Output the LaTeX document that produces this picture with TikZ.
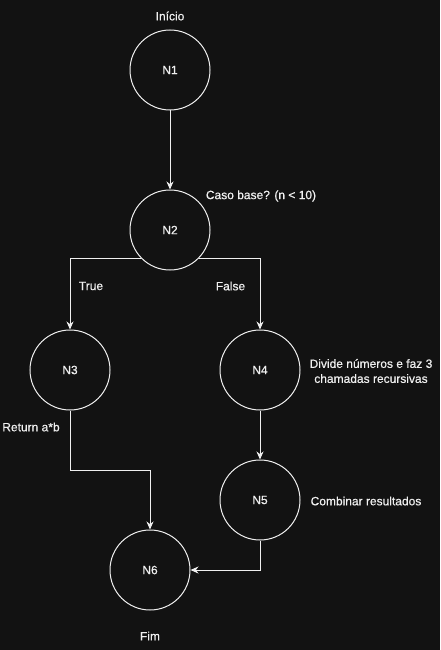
\documentclass[tikz,border=0pt]{standalone}
\usepackage{fontspec}
\setmainfont{Liberation Sans}[FakeBold=0.6]
\usetikzlibrary{arrows.meta}
\definecolor{bgc}{RGB}{18,18,18}
\definecolor{fgc}{RGB}{240,240,240}
\tikzset{
  stnode/.style={circle,draw=fgc,line width=1pt,minimum size=80pt,inner sep=0pt,text=fgc,font=\fontsize{12}{14}\selectfont},
  lbl/.style={text=fgc,inner sep=0pt,font=\fontsize{12}{15}\selectfont,align=center},
  conn/.style={draw=fgc,line width=1pt,-{Stealth[length=8pt,width=7pt]}}
}
\begin{document}
\begin{tikzpicture}[x=1pt,y=-1pt]
\fill[bgc] (0,0) rectangle (440,650);
\useasboundingbox (0,0) rectangle (440,650);
\node[stnode] (N1) at (170,70) {N1};
\node[stnode] (N2) at (170,230) {N2};
\node[stnode] (N3) at (70,370) {N3};
\node[stnode] (N4) at (260,370) {N4};
\node[stnode] (N5) at (260,500) {N5};
\node[stnode] (N6) at (150,570) {N6};
\node[lbl] (L1) at (170,16) {Início};
\node[lbl] (L2) at (261,196) {Caso base? (n < 10)};
\node[lbl] (L3) at (91,286) {True};
\node[lbl] (L4) at (230.5,286) {False};
\node[lbl] (L5) at (371,371) {Divide números e faz 3\\chamadas recursivas};
\node[lbl] (L6) at (31,427) {Return a*b};
\node[lbl] (L7) at (366,501) {Combinar resultados};
\node[lbl] (L8) at (150,636) {Fim};
\draw[conn] (N1.south) -- (N2.north);
\draw[conn] (N2.225) -| (N3.north);
\draw[conn] (N2.315) -| (N4.north);
\draw[conn] (N4.south) -- (N5.north);
\coordinate (B3) at (70,470);
\draw[conn] (N3.south) -- (B3) -| (N6.north);
\draw[conn] (N5.south) |- (N6.east);
\end{tikzpicture}
\end{document}
